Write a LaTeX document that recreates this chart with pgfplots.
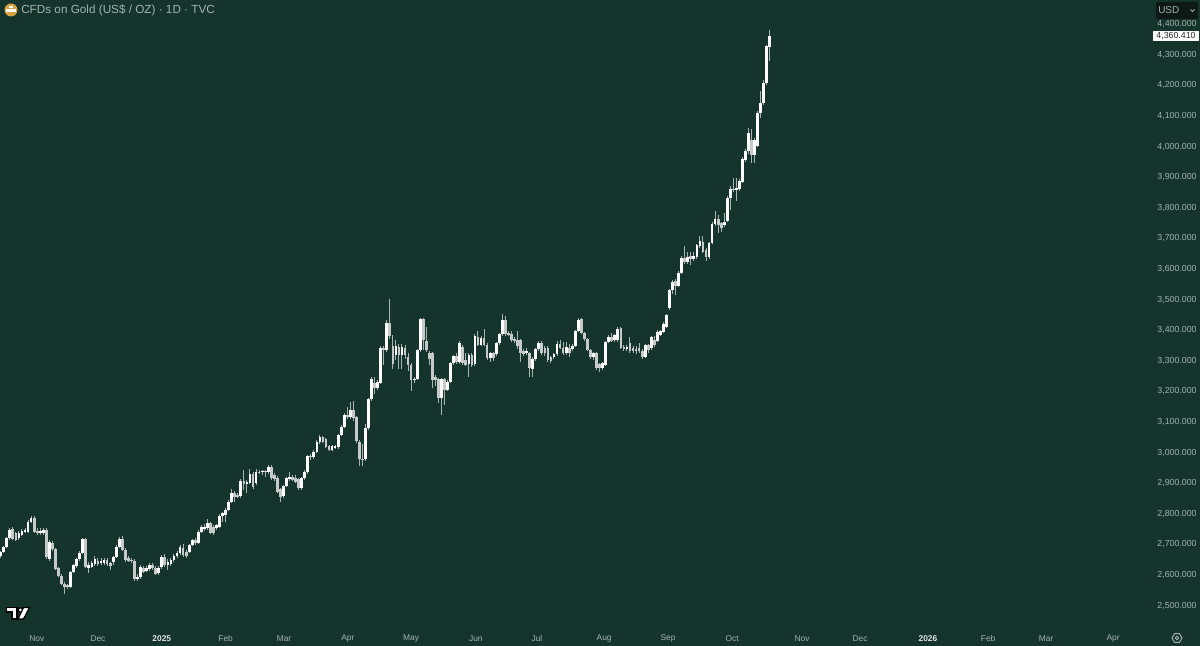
\documentclass[border=0pt]{standalone}
\usepackage{fontspec}
\setmainfont{Liberation Sans}
\usepackage{pgfplots}
\usepackage{pgfplotstable}
\pgfplotsset{compat=1.18}
\definecolor{bgc}{HTML}{15352C}
\definecolor{lab}{HTML}{A3B2AD}
\definecolor{dn}{HTML}{C6CAC8}
\definecolor{wk}{HTML}{A9B3B0}
\pgfplotstableread{
i o h l c
0 2660 2678 2655 2674
1 2674 2694 2670 2690
2 2688 2722 2685 2718
3 2718 2752 2714 2745
4 2747 2755 2712 2716
5 2734 2740 2708 2714
6 2718 2742 2712 2734
7 2729 2748 2725 2743
8 2740 2750 2736 2745
9 2740 2778 2736 2772
10 2772 2790 2768 2785
11 2785 2790 2735 2740
12 2742 2750 2728 2734
13 2734 2750 2730 2742
14 2734 2752 2730 2745
15 2745 2750 2650 2656
16 2650 2712 2645 2707
17 2703 2710 2678 2682
18 2682 2686 2614 2618
19 2620 2624 2590 2595
20 2595 2600 2564 2568
21 2570 2575 2536 2560
22 2565 2570 2552 2560
23 2560 2612 2555 2609
24 2609 2635 2605 2630
25 2627 2655 2622 2650
26 2649 2675 2645 2669
27 2669 2720 2665 2716
28 2716 2720 2620 2625
29 2620 2640 2603 2631
30 2625 2645 2620 2636
31 2634 2660 2628 2649
32 2645 2655 2628 2634
33 2636 2652 2630 2645
34 2638 2655 2632 2647
35 2647 2655 2628 2634
36 2636 2640 2615 2627
37 2641 2660 2630 2656
38 2656 2695 2652 2690
39 2690 2721 2685 2716
40 2716 2725 2675 2680
41 2680 2685 2642 2647
42 2652 2660 2640 2645
43 2648 2653 2638 2644
44 2645 2650 2580 2584
45 2584 2600 2580 2590
46 2590 2630 2586 2623
47 2620 2628 2604 2609
48 2612 2626 2608 2620
49 2618 2636 2612 2630
50 2630 2637 2615 2620
51 2622 2626 2597 2601
52 2603 2628 2598 2622
53 2623 2662 2618 2656
54 2658 2665 2625 2631
55 2631 2650 2615 2642
56 2634 2652 2628 2647
57 2647 2665 2642 2661
58 2660 2675 2655 2669
59 2669 2695 2664 2688
60 2685 2698 2658 2663
61 2674 2680 2655 2660
62 2674 2700 2670 2696
63 2696 2716 2692 2712
64 2712 2718 2696 2701
65 2704 2745 2700 2740
66 2740 2760 2735 2754
67 2747 2764 2742 2756
68 2750 2782 2745 2769
69 2767 2772 2732 2736
70 2756 2762 2730 2734
71 2750 2766 2745 2761
72 2756 2798 2752 2792
73 2792 2804 2772 2799
74 2794 2818 2770 2812
75 2810 2842 2806 2837
76 2837 2878 2832 2865
77 2865 2872 2835 2854
78 2859 2865 2848 2852
79 2856 2912 2850 2906
80 2906 2942 2875 2897
81 2897 2910 2866 2903
82 2900 2945 2895 2928
83 2928 2935 2878 2885
84 2898 2945 2893 2936
85 2936 2942 2928 2933
86 2933 2942 2925 2938
87 2938 2942 2917 2933
88 2933 2957 2928 2952
89 2952 2956 2910 2914
90 2925 2930 2905 2911
91 2916 2920 2865 2870
92 2878 2882 2835 2854
93 2855 2893 2850 2889
94 2889 2918 2885 2914
95 2911 2935 2905 2919
96 2917 2925 2904 2909
97 2914 2925 2898 2903
98 2911 2915 2875 2881
99 2881 2918 2876 2914
100 2914 2940 2910 2936
101 2933 2991 2928 2987
102 2987 2992 2975 2982
103 2983 3005 2978 3001
104 3001 3038 2996 3034
105 3031 3055 3026 3048
106 3048 3052 3028 3034
107 3041 3045 3012 3017
108 3020 3024 3002 3007
109 3007 3022 3002 3018
110 3014 3024 3010 3020
111 3015 3060 3011 3056
112 3056 3087 3052 3083
113 3083 3127 3078 3121
114 3121 3147 3108 3113
115 3113 3163 3108 3137
116 3137 3165 3100 3110
117 3113 3118 3030 3037
118 3034 3040 2955 2976
119 2978 3025 2955 2975
120 2976 3090 2970 3080
121 3077 3176 3072 3173
122 3173 3245 3168 3238
123 3224 3245 3190 3208
124 3208 3235 3203 3230
125 3227 3345 3222 3339
126 3339 3345 3284 3332
127 3333 3430 3328 3423
128 3423 3500 3370 3380
129 3347 3382 3272 3288
130 3317 3365 3300 3347
131 3344 3352 3270 3317
132 3317 3352 3270 3344
133 3341 3350 3305 3317
134 3311 3322 3265 3284
135 3284 3290 3200 3235
136 3235 3245 3225 3240
137 3240 3338 3235 3333
138 3333 3438 3328 3435
139 3435 3438 3333 3366
140 3363 3410 3328 3333
141 3322 3330 3285 3303
142 3322 3326 3210 3235
143 3246 3250 3215 3235
144 3237 3241 3160 3175
145 3175 3242 3120 3237
146 3238 3242 3155 3203
147 3203 3235 3198 3230
148 3230 3294 3225 3290
149 3290 3318 3285 3314
150 3314 3325 3288 3293
151 3293 3362 3288 3355
152 3344 3350 3285 3292
153 3300 3322 3280 3284
154 3287 3322 3245 3317
155 3317 3322 3278 3284
156 3287 3384 3282 3380
157 3377 3395 3345 3350
158 3350 3380 3345 3372
159 3372 3402 3345 3350
160 3350 3355 3300 3306
161 3306 3326 3295 3322
162 3322 3326 3298 3306
163 3320 3360 3315 3355
164 3355 3390 3350 3385
165 3385 3451 3380 3431
166 3431 3445 3380 3385
167 3390 3396 3378 3382
168 3385 3395 3360 3366
169 3368 3375 3355 3363
170 3366 3395 3338 3346
171 3366 3370 3295 3322
172 3331 3338 3315 3320
173 3325 3340 3318 3331
174 3324 3328 3245 3273
175 3270 3310 3246 3303
176 3303 3340 3298 3335
177 3335 3362 3330 3357
178 3357 3362 3318 3322
179 3339 3345 3315 3322
180 3339 3345 3295 3300
181 3309 3314 3290 3298
182 3309 3325 3304 3320
183 3320 3362 3315 3353
184 3353 3365 3335 3339
185 3339 3360 3318 3322
186 3322 3358 3318 3344
187 3339 3352 3312 3325
188 3335 3352 3330 3346
189 3346 3400 3342 3396
190 3396 3438 3392 3431
191 3433 3438 3385 3390
192 3388 3392 3362 3368
193 3368 3372 3330 3333
194 3333 3337 3305 3311
195 3311 3328 3300 3324
196 3324 3328 3268 3273
197 3288 3292 3260 3274
198 3274 3295 3268 3290
199 3284 3364 3280 3360
200 3360 3381 3356 3377
201 3375 3390 3360 3364
202 3366 3386 3360 3382
203 3366 3408 3360 3401
204 3404 3410 3335 3339
205 3344 3350 3330 3335
206 3335 3350 3330 3344
207 3355 3375 3325 3331
208 3339 3345 3325 3331
209 3335 3345 3320 3331
210 3340 3355 3325 3329
211 3331 3335 3305 3311
212 3311 3354 3306 3350
213 3350 3354 3325 3334
214 3339 3380 3334 3375
215 3366 3378 3342 3350
216 3364 3400 3358 3393
217 3383 3400 3378 3396
218 3393 3424 3388 3418
219 3410 3452 3405 3448
220 3469 3533 3464 3529
221 3529 3562 3515 3556
222 3560 3566 3513 3542
223 3542 3590 3538 3584
224 3584 3640 3580 3635
225 3635 3673 3615 3622
226 3622 3654 3615 3638
227 3640 3652 3611 3632
228 3632 3654 3625 3640
229 3638 3680 3632 3676
230 3673 3706 3668 3689
231 3687 3706 3650 3654
232 3660 3665 3625 3638
233 3638 3686 3630 3682
234 3684 3750 3680 3745
235 3745 3788 3740 3760
236 3760 3775 3717 3742
237 3747 3752 3720 3731
238 3742 3782 3735 3752
239 3755 3835 3750 3831
240 3831 3868 3790 3858
241 3860 3894 3850 3856
242 3856 3894 3821 3862
243 3858 3892 3852 3886
244 3883 3965 3878 3959
245 3954 3990 3948 3984
246 3985 4058 3975 4042
247 4018 4055 3944 3971
248 3971 4025 3944 4018
249 4000 4113 3995 4109
250 4107 4178 4090 4140
251 4140 4214 4135 4207
252 4207 4330 4200 4327
253 4325 4379 4279 4360.41
}\ohlc
\begin{document}
\begin{tikzpicture}
\useasboundingbox (0,0) rectangle (900pt,484.5pt);
\begin{axis}[
  at={(0,0)}, anchor=south west,
  scale only axis, width=900pt, height=484.5pt,
  xmin=-0.23, xmax=394.5, ymin=2366, ymax=4477,
  axis line style={draw=none},
  axis background/.style={fill=bgc},
  major tick length=0pt,
  ytick={2500,2600,2700,2800,2900,3000,3100,3200,3300,3400,3500,3600,3700,3800,3900,4000,4100,4200,4300,4400},
  ytick pos=right, xtick pos=bottom,
  /pgf/number format/.cd, fixed, fixed zerofill, precision=3, 1000 sep={,}, assume math mode=true,
  /pgfplots/.cd,
  yticklabel style={anchor=east, xshift=1pt, yshift=-0.5pt, text=lab, font=\fontsize{6.6}{7}\selectfont},
  xtick={11.9,32,53,74,93.2,114.2,135,156.3,176.4,198.5,219.5,240.6,263.6,282.7,305,324.8,343.9,365.9},
  xticklabels={Nov,Dec,\textcolor{white!85!bgc}{\textbf{2025}},Feb,Mar,Apr,May,Jun,Jul,Aug,Sep,Oct,Nov,Dec,\textcolor{white!85!bgc}{\textbf{2026}},Feb,Mar,Apr},
  xticklabel style={anchor=center, yshift=5.8pt, text=lab, font=\fontsize{6.3}{7}\selectfont},
  clip=true,
]
\addplot[only marks, mark size=0pt, mark options={draw=none, fill=none}, error bars/.cd, y dir=plus, y explicit,
  error mark=none, error bar style={wk, line width=0.75pt}]
  table[x=i, y=l, y error expr={\thisrow{h}-\thisrow{l}}] {\ohlc};
\addplot[only marks, mark size=0pt, mark options={draw=none, fill=none}, error bars/.cd, y dir=plus, y explicit,
  error mark=none, error bar style={dn, line width=2.05pt}]
  table[x=i, y=c, y error expr={max(\thisrow{o}-\thisrow{c},0)}] {\ohlc};
\addplot[only marks, mark size=0pt, mark options={draw=none, fill=none}, error bars/.cd, y dir=plus, y explicit,
  error mark=none, error bar style={white, line width=2.05pt}]
  table[x=i, y=o, y error expr={max(\thisrow{c}-\thisrow{o},0)}] {\ohlc};
\end{axis}
\begin{scope}[x=0.75pt, y=-0.75pt, yshift=484.5pt]
  % title
  \fill[fill={rgb,255:red,217;green,163;blue,63}] (11,10) circle (6.5);
  \fill[white] (8.6,5.6) rectangle (13.4,8.4);
  \fill[white] (5.8,9.3) rectangle (16.2,12);
  \node[anchor=west, inner sep=0pt, text=lab, font=\fontsize{8.8}{10}\selectfont] at (21,10.6) {CFDs on Gold (US\$ / OZ) · 1D · TVC};
  % currency box
  \fill[fill={rgb,255:red,14;green,24;blue,21}, rounded corners=1.5pt] (1156,2) rectangle (1198,19);
  \node[anchor=west, inner sep=0pt, text=lab, font=\fontsize{7.5}{8}\selectfont] at (1158,10.5) {USD};
  \draw[lab, line width=0.6pt] (1190.5,9.5) -- (1192.5,11.5) -- (1194.5,9.5);
  % last price tag
  \fill[white] (1153,31) rectangle (1199,41);
  \node[anchor=center, inner sep=0pt, text=black!85, font=\fontsize{6.6}{7}\selectfont] at (1176,36) {4,360.410};
  % logo
  \begin{scope}[draw=black, line width=0.9pt, fill=white]
    \filldraw (6.5,607.5) -- (17,607.5) -- (17,619) -- (12,619) -- (12,612) -- (6.5,612) -- cycle;
    \filldraw (20.5,610) circle (2.2);
    \filldraw (23.5,607.5) -- (29.5,607.5) -- (23.5,619) -- (18,619) -- cycle;
  \end{scope}
  % settings icon
  \draw[lab, line width=0.7pt] (1172,638) -- (1174.5,633.7) -- (1179.5,633.7) -- (1182,638) -- (1179.5,642.3) -- (1174.5,642.3) -- cycle;
  \draw[lab, line width=0.7pt] (1177,638) circle (1.8);
\end{scope}
\end{tikzpicture}
\end{document}
